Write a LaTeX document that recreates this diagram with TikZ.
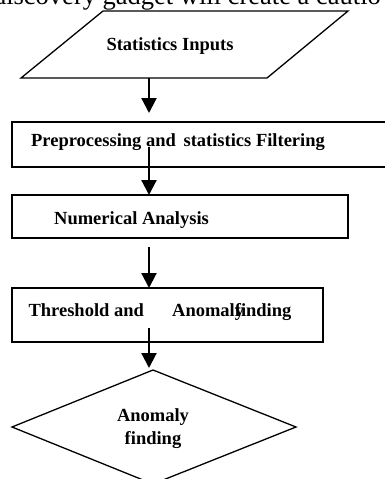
\documentclass[tikz,border=0pt]{standalone}
\usepackage{fontspec}
\setmainfont{Liberation Serif}
\usetikzlibrary{arrows.meta}
\begin{document}
\begin{tikzpicture}[x=1pt,y=-1pt,
  shape line/.style={draw=black,line width=1.3pt},
  boxnode/.style={draw=black,line width=1.3pt,rectangle,inner sep=0pt,outer sep=0pt},
  label text/.style={font=\bfseries\fontsize{18.5}{23}\selectfont,inner sep=0pt,align=center},
  arr/.style={line width=2.2pt,-{Triangle[width=15pt,length=15pt]}}]
\clip (0,0) rectangle (385,479);
\fill[white] (0,0) rectangle (385,479);
% partial line of running text, cut off at the top
\node[anchor=base east,inner sep=0pt,font=\fontsize{26.5}{30}\selectfont] (top) at (381,5) {discovery gadget will create a cautio};
% input parallelogram
\draw[shape line] (103,11) -- (348,11) -- (267,78) -- (21,78) -- cycle;
\coordinate (pbot) at (149,78);
\node[label text] (t0) at (170,46) {Statistics Inputs};
% boxes
\node[boxnode,minimum width=380pt,minimum height=45pt] (b1) at (202,144.5) {};
\node[label text] (t1) at (178,142) {Preprocessing and\, statistics Filtering};
\node[boxnode,minimum width=336pt,minimum height=43pt] (b2) at (180,216.5) {};
\node[label text] (t2) at (131.5,220) {Numerical Analysis};
\node[boxnode,minimum width=311pt,minimum height=54pt] (b3) at (167.5,315) {};
\node[label text] (t3) at (160,312) {Threshold and\quad\; Anomal\rlap{y}finding};
% decision diamond
\draw[shape line] (153,370) -- (296,427) -- (153,484) -- (12,427) -- cycle;
\coordinate (dtop) at (153,370);
\node[label text] (t4) at (153,429) {Anomaly\\finding};
% arrows
\coordinate (ax) at (149,0);
\draw[arr,shorten >=9pt] (pbot) -- (ax |- b1.north);
\draw[arr,shorten <=-20pt] (ax |- b1.south) -- (ax |- b2.north);
\draw[arr,shorten <=9pt] (ax |- b2.south) -- (ax |- b3.north);
\draw[arr,shorten <=-14pt,shorten >=2pt] (ax |- b3.south) -- (ax |- dtop);
\end{tikzpicture}
\end{document}
